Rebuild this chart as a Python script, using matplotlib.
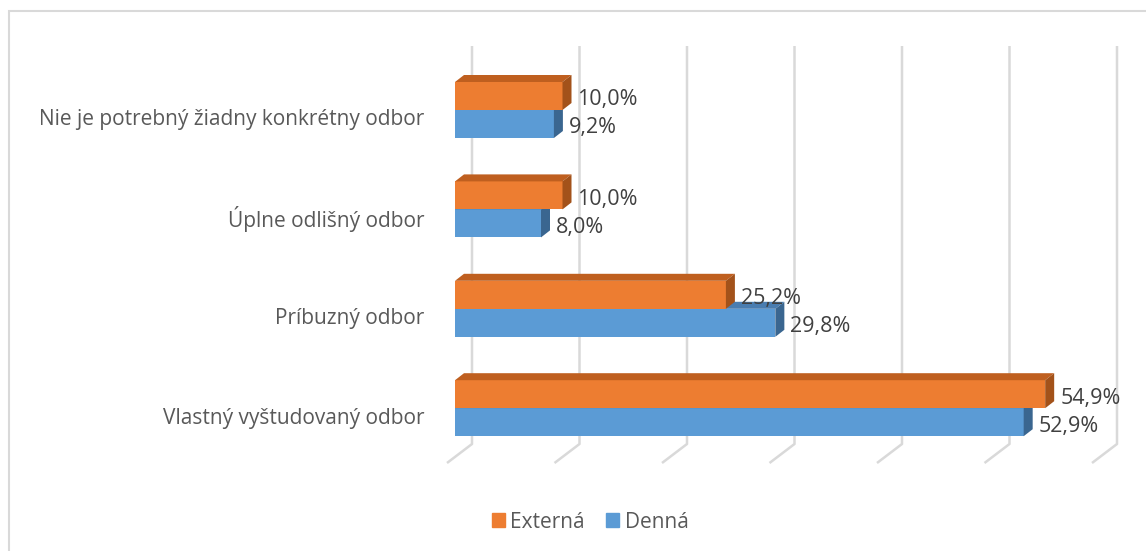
import matplotlib
matplotlib.use("Agg")
import matplotlib.pyplot as plt
from matplotlib.patches import Polygon, Rectangle

# data
categories = ["Nie je potrebný žiadny konkrétny odbor", "Úplne odlišný odbor",
              "Príbuzný odbor", "Vlastný vyštudovaný odbor"]
externa = [10.0, 10.0, 25.2, 54.9]
denna = [9.2, 8.0, 29.8, 52.9]
grid_ticks = [0, 10, 20, 30, 40, 50, 60]
series_names = ["Externá", "Denná"]

plt.rcParams['font.family'] = ['Open Sans', 'DejaVu Sans']

W, H = 1146, 551
fig = plt.figure(figsize=(W / 100, H / 100), dpi=100)

# axes laid out in pixels of the figure
ax_l, ax_r, ax_t, ax_b = 430, 1140, 40, 480
ax = fig.add_axes([ax_l / W, 1 - ax_b / H, (ax_r - ax_l) / W, (ax_b - ax_t) / H])
px_x = 10.75   # pixels per percent
x0 = 455       # pixel of 0 %
px_y = 99.4    # pixels per category
y0 = 110
ax.set_xlim((ax_l - x0) / px_x, (ax_r - x0) / px_x)
ax.set_ylim((ax_b - y0) / px_y, (ax_t - y0) / px_y)
ax.axis('off')

# 3d look
bar_h = 28 / px_y
dx = 9 / px_x
dy = 7 / px_y
wall_dx = 17 / px_x
floor_dx = -8 / px_x
grid_top = (46 - y0) / px_y
floor_back = (444 - y0) / px_y
floor_front = (463 - y0) / px_y

grid_col = '#D9D9D9'
for t in grid_ticks:
    ax.plot([t + wall_dx, t + wall_dx, t + floor_dx], [grid_top, floor_back, floor_front],
            color=grid_col, lw=1.8, solid_capstyle='butt', clip_on=False, zorder=1)

orange = ('#ED7D31', '#BF5F1F', '#A3521A')
blue = ('#5B9BD5', '#4A7DB0', '#3A6690')
text_col = '#404040'
cat_col = '#595959'


def bar3d(v, top, cols, z):
    front, topc, side = cols
    bottom = top + bar_h
    ax.barh(top + bar_h / 2, v, height=bar_h, color=front, zorder=z)
    ax.add_patch(Polygon([(0, top), (v, top), (v + dx, top - dy), (dx, top - dy)],
                         closed=True, facecolor=topc, edgecolor='none', zorder=z))
    ax.add_patch(Polygon([(v, top), (v + dx, top - dy), (v + dx, bottom - dy), (v, bottom)],
                         closed=True, facecolor=side, edgecolor='none', zorder=z))


def fmt(v):
    return f"{v:.1f}".replace('.', ',') + '%'


for i, cat in enumerate(categories):
    bar3d(denna[i], i, blue, 2)
    bar3d(externa[i], i - bar_h, orange, 3)
    ax.text(externa[i] + 15 / px_x, i - bar_h / 2 + 4 / px_y, fmt(externa[i]),
            ha='left', va='center', fontsize=15.5, color=text_col, zorder=5)
    ax.text(denna[i] + 15 / px_x, i + bar_h / 2 + 4 / px_y, fmt(denna[i]),
            ha='left', va='center', fontsize=15.5, color=text_col, zorder=5)
    ax.text((424 - x0) / px_x, i + 10 / px_y, cat, ha='right', va='center',
            fontsize=15, color=cat_col)

# outer chart border
fig.patches.append(Rectangle((8.5 / W, -0.1), 1.2, 1 - 11 / H + 0.1, transform=fig.transFigure,
                             fill=False, edgecolor=grid_col, lw=1.5))

handles = [Rectangle((0, 0), 1, 1, color=orange[0]), Rectangle((0, 0), 1, 1, color=blue[0])]
fig.legend(handles, series_names, loc='center', bbox_to_anchor=(590 / W, 1 - 522 / H),
           ncol=2, frameon=False, handlelength=0.65, handleheight=0.65, handletextpad=0.25,
           columnspacing=1.0, fontsize=15, labelcolor=cat_col)

fig.savefig('out.png', dpi=100)
